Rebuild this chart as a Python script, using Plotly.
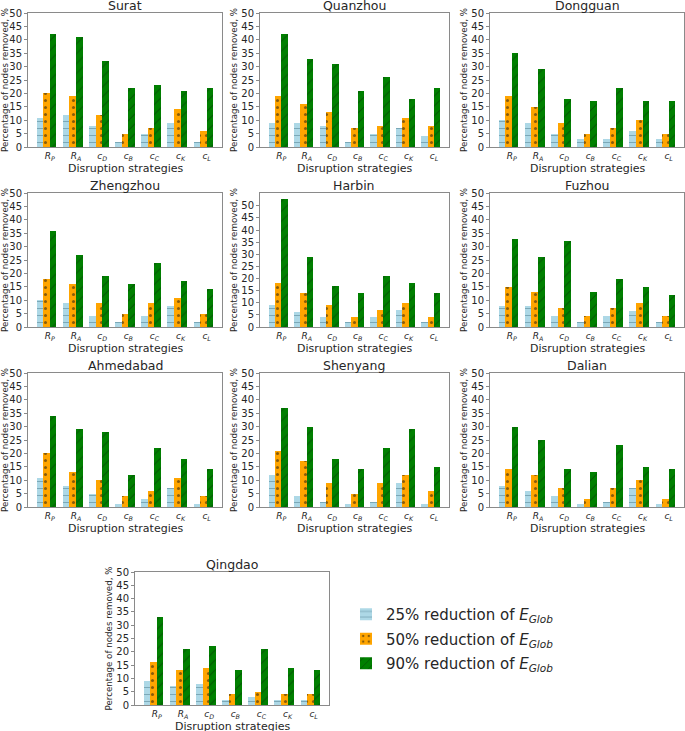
import plotly.graph_objects as go

W, H = 685, 731

cities = ["Surat", "Quanzhou", "Dongguan", "Zhengzhou", "Harbin", "Fuzhou",
          "Ahmedabad", "Shenyang", "Dalian", "Qingdao"]

strategies = ["<i>R</i><sub><i>P</i></sub>", "<i>R</i><sub><i>A</i></sub>",
              "<i>c</i><sub><i>D</i></sub>", "<i>c</i><sub><i>B</i></sub>",
              "<i>c</i><sub><i>C</i></sub>", "<i>c</i><sub><i>K</i></sub>",
              "<i>c</i><sub><i>L</i></sub>"]

# % of nodes removed, one row per city (same order as cities)
pct_25 = [
    [11, 12, 8, 2, 5, 9, 2],
    [9, 9, 8, 2, 5, 7, 4],
    [10, 9, 5, 3, 3, 6, 3],
    [10, 9, 4, 2, 4, 8, 2],
    [9, 6, 4, 2, 4, 7, 2],
    [8, 8, 4, 2, 4, 6, 2],
    [11, 8, 5, 1, 3, 7, 1],
    [12, 4, 2, 1, 2, 9, 1],
    [8, 6, 4, 1, 2, 7, 1],
    [9, 7, 8, 2, 3, 2, 2],
]
pct_50 = [
    [20, 19, 12, 5, 7, 14, 6],
    [19, 16, 13, 7, 8, 11, 8],
    [19, 15, 9, 5, 7, 10, 5],
    [18, 16, 9, 5, 9, 11, 5],
    [18, 14, 9, 4, 7, 10, 4],
    [15, 13, 7, 4, 7, 9, 4],
    [20, 13, 10, 4, 6, 11, 4],
    [21, 17, 9, 5, 9, 12, 6],
    [14, 12, 7, 3, 7, 10, 3],
    [16, 13, 14, 4, 5, 4, 4],
]
pct_90 = [
    [42, 41, 32, 22, 23, 21, 22],
    [42, 33, 31, 21, 26, 18, 22],
    [35, 29, 18, 17, 22, 17, 17],
    [36, 27, 19, 16, 24, 17, 14],
    [53, 29, 17, 14, 21, 18, 14],
    [33, 26, 32, 13, 18, 15, 12],
    [34, 29, 28, 12, 22, 18, 14],
    [37, 30, 18, 14, 22, 29, 15],
    [30, 25, 14, 13, 23, 15, 14],
    [33, 21, 22, 13, 21, 14, 13],
]
y_tops = [50, 50, 50, 50, 55.3, 50, 50, 50, 50, 50]

series = [
    ("25% reduction of <i>E</i><sub><i>Glob</i></sub>", pct_25, "#add8e6", "-", "#4a7788", -0.5),
    ("50% reduction of <i>E</i><sub><i>Glob</i></sub>", pct_50, "#ffa500", ".", "#111111", -0.25),
    ("90% reduction of <i>E</i><sub><i>Glob</i></sub>", pct_90, "#008000", "/", "#0b2a0b", 0.0),
]

# axes boxes in pixels: left, right, top, bottom
cols = [(28, 222), (260, 449), (490, 684)]
rows = [(13, 147), (193, 327), (373, 507)]
boxes = [(c[0], c[1], r[0], r[1]) for r in rows for c in cols]
boxes.append((135, 329, 572, 705))

frame = "#8a8a8a"
txt = "#262626"
pos = list(range(len(strategies)))

fig = go.Figure()
annotations = []
layout_axes = {}

for i, city in enumerate(cities):
    n = "" if i == 0 else str(i + 1)
    for name, vals, color, shape, fg, off in series:
        fig.add_trace(go.Bar(
            x=pos, y=vals[i], width=0.25, offset=off,
            marker=dict(color=color, line=dict(width=0),
                        pattern=dict(shape=shape, fgcolor=fg, bgcolor=color,
                                     size=7, solidity=0.15)),
            name=name, legendgroup=name, showlegend=(i == 0),
            xaxis="x" + n, yaxis="y" + n,
        ))
    l, r, t, b = boxes[i]
    layout_axes["xaxis" + n] = dict(
        domain=[l / W, r / W], anchor="y" + n, automargin=False,
        range=[-0.8375, 6.5875], tickvals=pos, ticktext=strategies,
        showline=True, mirror=True, linecolor=frame, linewidth=1,
        ticks="", tickfont=dict(size=9, color=txt),
        showgrid=False, zeroline=False,
    )
    layout_axes["yaxis" + n] = dict(
        domain=[1 - b / H, 1 - t / H], anchor="x" + n, automargin=False,
        range=[0, y_tops[i]], tickvals=list(range(0, 51, 5)),
        showline=True, mirror=True, linecolor=frame, linewidth=1,
        ticks="outside", ticklen=3, tickcolor=frame,
        tickfont=dict(size=10, color=txt),
        title=dict(text="Percentage of nodes removed, %", font=dict(size=8.7, color=txt), standoff=2),
        showgrid=False, zeroline=False,
    )
    annotations.append(dict(
        text=city, x=(l + r) / 2 / W, y=1 - t / H, xref="paper", yref="paper",
        xanchor="center", yanchor="bottom", yshift=-2, showarrow=False,
        font=dict(size=12.5, color=txt),
    ))
    annotations.append(dict(
        text="Disruption strategies", x=(l + r) / 2 / W, y=1 - b / H,
        xref="paper", yref="paper", xanchor="center", yanchor="top",
        yshift=-13, showarrow=False, font=dict(size=11, color=txt),
    ))

fig.update_layout(
    width=W, height=H,
    margin=dict(l=0, r=0, t=0, b=0, autoexpand=False),
    paper_bgcolor="white", plot_bgcolor="white",
    font=dict(family="DejaVu Sans", color=txt),
    barmode="overlay", bargap=0,
    annotations=annotations,
    legend=dict(x=346 / W, y=1 - 598 / H, xanchor="left", yanchor="top",
                font=dict(size=15, color=txt), traceorder="grouped",
                tracegroupgap=2, bgcolor="rgba(0,0,0,0)"),
    **layout_axes,
)

# drop the browser's default 8px body margin so the figure sits at the page corner
fig.write_html("out.html", config={"displayModeBar": False},
               post_script="document.body.style.margin='0';document.body.style.overflow='hidden';")
